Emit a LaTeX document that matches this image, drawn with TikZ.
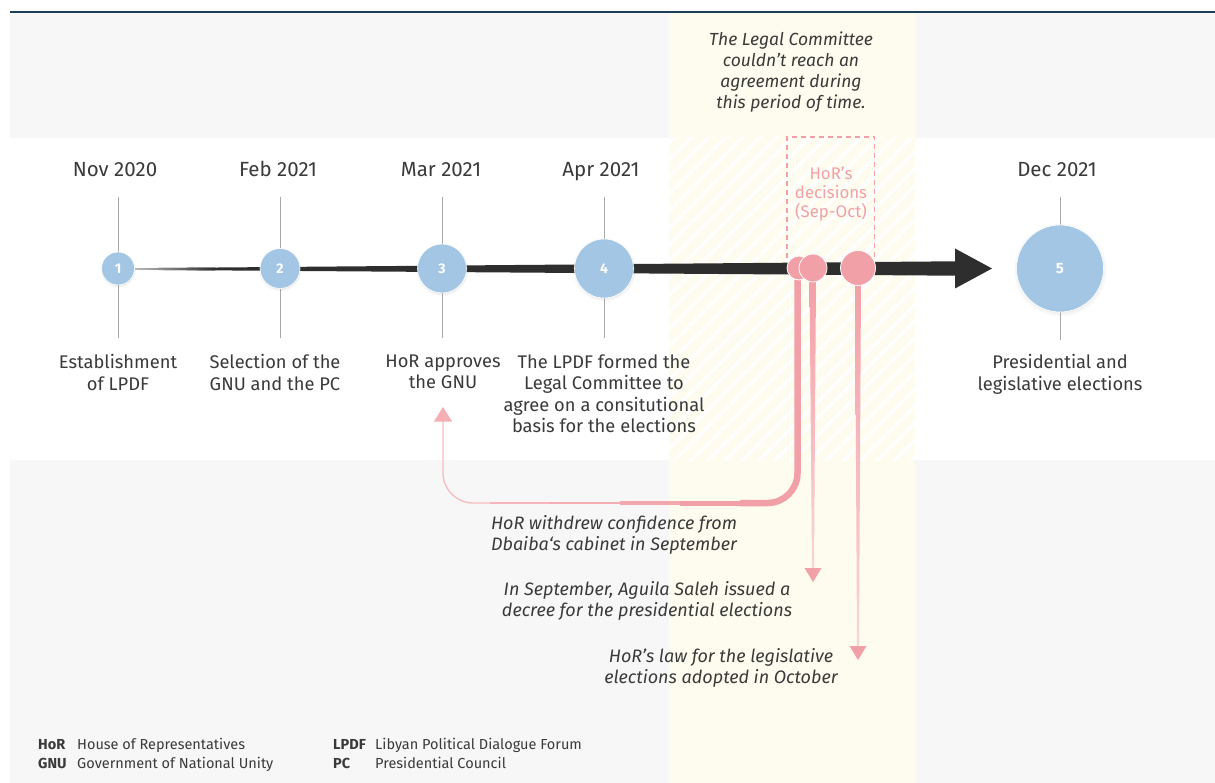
\documentclass[tikz,border=0pt]{standalone}
\usepackage{fontspec}
\setmainfont{Fira Sans}
\usetikzlibrary{arrows.meta,patterns.meta,shadows}
\definecolor{bggray}{HTML}{F7F7F7}
\definecolor{yel}{HTML}{FEFCEE}
\definecolor{navy}{HTML}{1E3F5A}
\definecolor{cblue}{HTML}{A3C6E4}
\definecolor{cpink}{HTML}{F2A0A7}
\definecolor{dark}{HTML}{2E2E2E}
\definecolor{txt}{HTML}{3A3A3A}
\definecolor{vline}{HTML}{A8A8A8}
\tikzset{
  bcirc/.style={circle, fill=cblue, draw=white, line width=0.6pt, text=white, inner sep=0pt,
    font=\fontsize{14}{14}\selectfont\bfseries,
    circular drop shadow={shadow xshift=0pt, shadow yshift=-1pt, opacity=0.18, shadow scale=1.08}},
  pcirc/.style={circle, fill=cpink, draw=white, line width=0.8pt, inner sep=0pt},
  datelbl/.style={text=txt, font=\fontsize{20.5}{24}\selectfont, inner sep=0pt, anchor=base},
  evlbl/.style={text=txt, font=\fontsize{18.3}{21.4}\selectfont, align=center, inner sep=0pt, anchor=north},
  itlbl/.style={text=txt, font=\fontsize{18}{21.2}\selectfont\itshape, align=center, inner sep=0pt, anchor=north},
  tick/.style={draw=vline, line width=0.8pt},
  abbr/.style={text=txt, font=\fontsize{14.5}{16}\selectfont\bfseries, anchor=base west, inner sep=0pt},
  abbrdesc/.style={text=txt, font=\fontsize{14.5}{16}\selectfont, anchor=base west, inner sep=0pt},
}
\begin{document}
\begin{tikzpicture}[x=1pt,y=-1pt]
\useasboundingbox (0,0) rectangle (1215,783);
% backgrounds
\fill[white] (0,0) rectangle (1215,783);
\fill[bggray] (10,13) rectangle (1215,138);
\fill[bggray] (10,460) rectangle (1215,783);
\fill[yel] (669,13) rectangle (915,138);
\fill[yel] (669,460) rectangle (915,783);
\fill[yel] (669,138) rectangle (915,460);
\fill[pattern={Lines[angle=45,distance=13pt,line width=4.5pt]}, pattern color=white] (669,138) rectangle (915,460);
\draw[navy, line width=1.6pt] (10,12) -- (1215,12);

% top note
\node[itlbl, font=\fontsize{17.5}{21}\selectfont\itshape] (note) at (791,32) {The Legal Committee\\couldn't reach an\\agreement during\\this period of time.};

% timeline shaft and arrow
\fill[dark] (135,268.2) -- (955,261.3) -- (955,248.5) -- (992,268.5) -- (955,288.5) -- (955,275.7) -- (135,269.8) -- cycle;
\shade[left color=gray!55, right color=dark] (135,268.2) -- (215,267.5) -- (215,270.5) -- (135,269.8) -- cycle;
\coordinate (tip) at (992,268.5);

% date labels
\node[datelbl] (d1) at (115,177) {Nov 2020};
\node[datelbl] (d2) at (278,177) {Feb 2021};
\node[datelbl] (d3) at (441,177) {Mar 2021};
\node[datelbl] (d4) at (601,177) {Apr 2021};
\node[datelbl] (d5) at (1057,177) {Dec 2021};

% tick lines
\foreach \x/\b in {118/338, 280/338, 442/338, 604/338, 1060/340} {
  \draw[tick] (\x,197) -- (\x,\b);
}

% blue circles
\node[bcirc, minimum size=33pt] (c1) at (118,268.5) {1};
\node[bcirc, minimum size=40pt] (c2) at (280,268.5) {2};
\node[bcirc, minimum size=49pt] (c3) at (442,268.5) {3};
\node[bcirc, minimum size=59pt] (c4) at (604,268.5) {4};
\node[bcirc, minimum size=87pt, font=\fontsize{15}{15}\selectfont\bfseries] (c5) at (1060,268.5) {5};

% event labels
\node[evlbl] (e1) at (118,354.5) {Establishment\\of LPDF};
\node[evlbl] (e2) at (275,354.5) {Selection of the\\GNU and the PC};
\node[evlbl] (e3) at (443,354.5) {HoR approves\\the GNU};
\node[evlbl] (e4) at (604,354.5) {The LPDF formed the\\Legal Committee to\\agree on a consitutional\\basis for the elections};
\node[evlbl] (e5) at (1060,354.5) {Presidential and\\legislative elections};

% pink dashed box
\draw[cpink, line width=1.2pt, dash pattern=on 5pt off 4pt] (787,258) -- (787,137) -- (874.5,137) -- (874.5,258);
\node[text=cpink, font=\fontsize{16.8}{19.2}\selectfont, align=center, inner sep=0pt, anchor=north] (hor) at (831,166.5) {HoR's\\decisions\\(Sep-Oct)};

% pink stems (behind circles)
\coordinate (aEnd) at (443,407);
\coordinate (bEnd) at (813,582);
\coordinate (cEnd) at (858,660);
\draw[cpink!70, line width=1.3pt, rounded corners=30pt] (797.5,280) -- (797.5,503) -- (443,503) -- (443,420);
\fill[cpink!85] (aEnd) -- (452,421.5) -- (434,421.5) -- cycle;
\draw[cpink, line width=6.5pt, rounded corners=30pt] (797.5,280) -- (797.5,503) -- (740,503);
\draw[cpink, line width=5pt] (740,503) -- (680,503);
\draw[cpink!92, line width=3.8pt] (680,503) -- (620,503);
\draw[cpink!85, line width=2.7pt] (620,503) -- (550,503);
\draw[cpink!78, line width=1.9pt] (550,503) -- (490,503);

\shade[top color=cpink, bottom color=cpink!45] (809.5,280) -- (816,280) -- (814,568) -- (812,568) -- cycle;
\fill[cpink] (bEnd) -- (821.5,568) -- (804.5,568) -- cycle;
\shade[top color=cpink, bottom color=cpink!45] (855,280) -- (861,280) -- (859,646) -- (857,646) -- cycle;
\fill[cpink] (cEnd) -- (866.5,646) -- (849.5,646) -- cycle;

% pink circles
\node[pcirc, minimum size=24pt] (pA) at (799,268) {};
\node[pcirc, minimum size=28pt] (pB) at (813,268) {};
\node[pcirc, minimum size=35pt] (pC) at (858,268) {};

% italic annotations
\node[itlbl] (t1) at (614,515) {HoR withdrew confidence from\\Dbaiba‘s cabinet in September};
\node[itlbl] (t2) at (647,581) {In September, Aguila Saleh issued a\\decree for the presidential elections};
\node[itlbl] (t3) at (721,648) {HoR's law for the legislative\\elections adopted in October};

% legend
\node[abbr] (k1) at (38,749) {HoR};
\node[abbrdesc] (k1d) at (77,749) {House of Representatives};
\node[abbr] (k2) at (38,768) {GNU};
\node[abbrdesc] (k2d) at (77,768) {Government of National Unity};
\node[abbr] (k3) at (333,749) {LPDF};
\node[abbrdesc] (k3d) at (375,749) {Libyan Political Dialogue Forum};
\node[abbr] (k4) at (333,768) {PC};
\node[abbrdesc] (k4d) at (375,768) {Presidential Council};
\end{tikzpicture}
\end{document}
